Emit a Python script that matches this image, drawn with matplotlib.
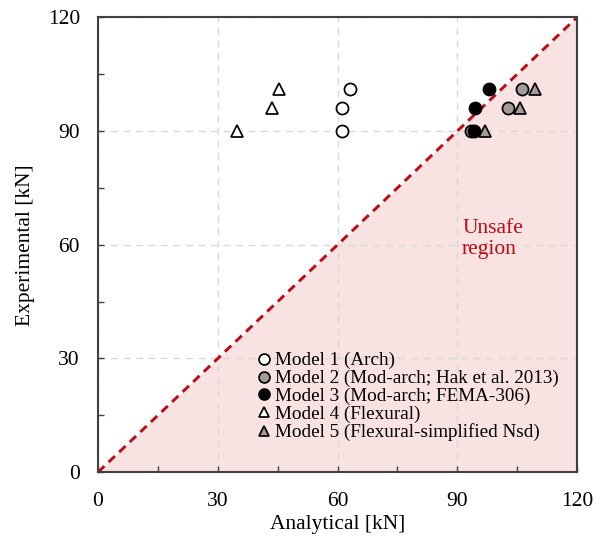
import matplotlib
matplotlib.use("Agg")
import matplotlib.pyplot as plt
import numpy as np

plt.rcParams['font.family'] = ['Liberation Serif', 'DejaVu Serif']
plt.rcParams['mathtext.fontset'] = 'stix'

# Analytical vs experimental capacities [kN]
exp_vals = [101, 96, 90]
m1_analytical = [63, 61, 61]
m2_analytical = [106.2, 102.6, 93.3]
m3_analytical = [97.8, 94.3, 94.2]
m4_analytical = [45.4, 43.6, 34.8]
m5_analytical = [109.5, 105.8, 97.0]

labels = ["Model 1 (Arch)",
          "Model 2 (Mod-arch; Hak et al. 2013)",
          "Model 3 (Mod-arch; FEMA-306)",
          "Model 4 (Flexural)",
          "Model 5 (Flexural-simplified Nsd)"]

ticks = [0, 30, 60, 90, 120]

fig = plt.figure(figsize=(6.05, 5.39), dpi=100)
ax = fig.add_axes([0.162, 0.124, 0.792, 0.844])

red = '#c00a14'
grey_fill = '#a49c9c'

# unsafe region below the 1:1 line
ax.fill_between([0, 120], [0, 120], [0, 0], color='#f8e2e2', zorder=0, lw=0)
ax.plot([0, 120], [0, 120], ls=(0, (3, 2)), color=red, lw=2.1, zorder=2)

ms = 8.7
mew = 1.25
common = dict(ls='none', markersize=ms, markeredgewidth=mew, markeredgecolor='black', zorder=3)
ax.plot(m1_analytical, exp_vals, marker='o', markerfacecolor='white', label=labels[0], **common)
ax.plot(m2_analytical, exp_vals, marker='o', markerfacecolor=grey_fill, label=labels[1], **common)
ax.plot(m3_analytical, exp_vals, marker='o', markerfacecolor='black', label=labels[2], **common)
ax.plot(m4_analytical, exp_vals, marker='^', markerfacecolor='white', label=labels[3], **common)
ax.plot(m5_analytical, exp_vals, marker='^', markerfacecolor=grey_fill, label=labels[4], **common)

ax.text(98.8, 61.5, "Unsafe\nregion", color=red, fontsize=15.5, ha='center', va='center',
        multialignment='left', linespacing=1.1)

ax.set_xlim(0, 120)
ax.set_ylim(0, 120)
ax.set_xticks(ticks)
ax.set_yticks(ticks)
ax.set_xticks(np.arange(15, 120, 30), minor=True)
ax.set_yticks(np.arange(15, 120, 30), minor=True)
ax.tick_params(which='both', direction='in', colors='#404040', labelcolor='black',
               labelsize=15.5)
ax.tick_params(axis='x', which='major', pad=14)
ax.tick_params(axis='y', which='major', pad=13)
ax.tick_params(which='major', length=4, width=1)
ax.tick_params(which='minor', length=4, width=1)
ax.grid(True, which='major', ls=(0, (5, 4)), color='#d9d9d9', lw=1.0, zorder=1)
ax.set_axisbelow(True)
for sp in ax.spines.values():
    sp.set_color('#404040')
    sp.set_linewidth(1.5)

ax.set_xlabel("Analytical [kN]", fontsize=15.5, labelpad=3)
ax.set_ylabel("Experimental [kN]", fontsize=15.5, labelpad=9)

leg = ax.legend(loc='upper left', bbox_to_anchor=(0.318, 0.281), frameon=False,
                fontsize=13.8, handlelength=0.6, handletextpad=0.3, labelspacing=0.02,
                borderaxespad=0, markerscale=0.9)

fig.savefig("out.png", dpi=100)
